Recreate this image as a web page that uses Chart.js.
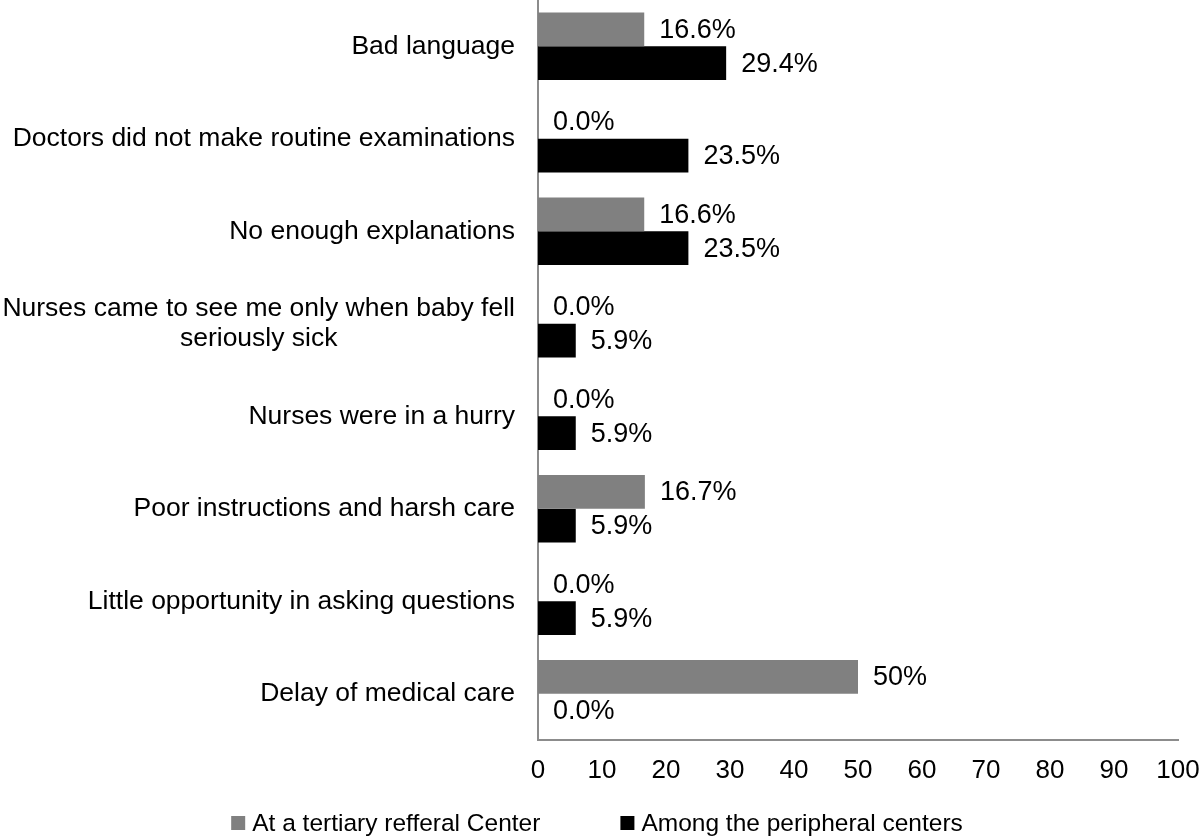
<!DOCTYPE html>
<html>
<head>
<meta charset="utf-8">
<script src="https://cdn.jsdelivr.net/npm/chart.js@4/dist/chart.umd.min.js"></script>
<style>
  body { margin: 0; background: #fff; }
  #wrap { width: 1200px; height: 839px; }
</style>
</head>
<body>
<div id="wrap"><canvas id="chart"></canvas></div>
<script>
// Reasons and share of mothers reporting them (%)
const categories = [
    'Bad language',
    'Doctors did not make routine examinations',
    'No enough explanations',
    ['Nurses came to see me only when baby fell', 'seriously sick'],
    'Nurses were in a hurry',
    'Poor instructions and harsh care',
    'Little opportunity in asking questions',
    'Delay of medical care',
];
const tertiary = [16.6, 0, 16.6, 0, 0, 16.7, 0, 50];
const peripheral = [29.4, 23.5, 23.5, 5.9, 5.9, 5.9, 5.9, 0];
const xTicks = [0, 10, 20, 30, 40, 50, 60, 70, 80, 90, 100];

const FONT = 'Liberation Sans, Arial, Helvetica, sans-serif';
const AXIS_COLOR = '#8c8c8c';

function fmtPct(v) {
    if (Number.isInteger(v) && v > 0) return v + '%';
    return v.toFixed(1) + '%';
}

// value labels to the right of each bar
const valueLabels = {
    id: 'valueLabels',
    afterDatasetsDraw(chart) {
        const ctx = chart.ctx;
        ctx.save();
        ctx.font = `27px ${FONT}`;
        ctx.fillStyle = '#000';
        ctx.textAlign = 'left';
        ctx.textBaseline = 'middle';
        chart.data.datasets.forEach((ds, di) => {
            const meta = chart.getDatasetMeta(di);
            meta.data.forEach((bar, i) => {
                ctx.fillText(fmtPct(ds.data[i]), bar.x + 15, bar.y + 1);
            });
        });
        ctx.restore();
    },
};

// category labels, right aligned, extra lines centred under the first
const categoryLabels = {
    id: 'categoryLabels',
    afterDraw(chart) {
        const ctx = chart.ctx;
        const yScale = chart.scales.y;
        const right = yScale.right - 23;
        const lineH = 30;
        ctx.save();
        ctx.font = `26.5px ${FONT}`;
        ctx.fillStyle = '#000';
        ctx.textBaseline = 'middle';
        categories.forEach((label, i) => {
            const lines = Array.isArray(label) ? label : [label];
            const y0 = yScale.getPixelForValue(i) - (lines.length - 1) * lineH / 2;
            if (lines.length === 1) {
                ctx.textAlign = 'right';
                ctx.fillText(lines[0], right, y0);
                return;
            }
            const widest = Math.max(...lines.map(l => ctx.measureText(l).width));
            ctx.textAlign = 'center';
            lines.forEach((l, k) => ctx.fillText(l, right - widest / 2, y0 + k * lineH));
        });
        ctx.restore();
    },
};

// simple bottom legend: square box + label, centred
const bottomLegend = {
    id: 'bottomLegend',
    afterDraw(chart) {
        const ctx = chart.ctx;
        const box = 14, gap = 7, itemGap = 80, y = 823;
        ctx.save();
        ctx.font = `24.5px ${FONT}`;
        ctx.textBaseline = 'middle';
        ctx.textAlign = 'left';
        const items = chart.data.datasets.map(ds => ({
            text: ds.label,
            color: ds.backgroundColor,
            w: box + gap + ctx.measureText(ds.label).width,
        }));
        const total = items.reduce((s, it) => s + it.w, 0) + itemGap * (items.length - 1);
        let x = (chart.width - total) / 2 - 3;
        items.forEach(it => {
            ctx.fillStyle = it.color;
            ctx.fillRect(x, y - box / 2, box, box);
            ctx.fillStyle = '#000';
            ctx.fillText(it.text, x + box + gap, y + 1);
            x += it.w + itemGap;
        });
        ctx.restore();
    },
};

new Chart(document.getElementById('chart'), {
    type: 'bar',
    data: {
        labels: categories,
        datasets: [
            {
                label: 'At a tertiary refferal Center',
                data: tertiary,
                backgroundColor: '#808080',
                borderWidth: 0,
            },
            {
                label: 'Among the peripheral centers',
                data: peripheral,
                backgroundColor: '#000000',
                borderWidth: 0,
            },
        ],
    },
    options: {
        indexAxis: 'y',
        responsive: true,
        maintainAspectRatio: false,
        animation: false,
        layout: { padding: { top: 0, right: 22, left: 0, bottom: 49 } },
        datasets: {
            bar: { categoryPercentage: 0.73, barPercentage: 1 },
        },
        scales: {
            x: {
                min: 0,
                max: 100,
                afterBuildTicks: (s) => { s.ticks = xTicks.map(v => ({ value: v })); },
                grid: { display: false },
                border: { display: true, color: AXIS_COLOR, width: 2 },
                ticks: {
                    color: '#000',
                    padding: 7,
                    font: { family: FONT, size: 26 },
                    maxRotation: 0,
                },
                afterFit: (s) => {
                    s.height = 50;
                    s.paddingLeft = 0;
                    s.paddingRight = 0;
                },
            },
            y: {
                grid: { display: false },
                border: { display: true, color: AXIS_COLOR, width: 2 },
                ticks: { display: false },
                afterFit: (s) => { s.width = 538; },
            },
        },
        plugins: {
            legend: { display: false },
            tooltip: { enabled: false },
        },
    },
    plugins: [valueLabels, categoryLabels, bottomLegend],
});
</script>
</body>
</html>
